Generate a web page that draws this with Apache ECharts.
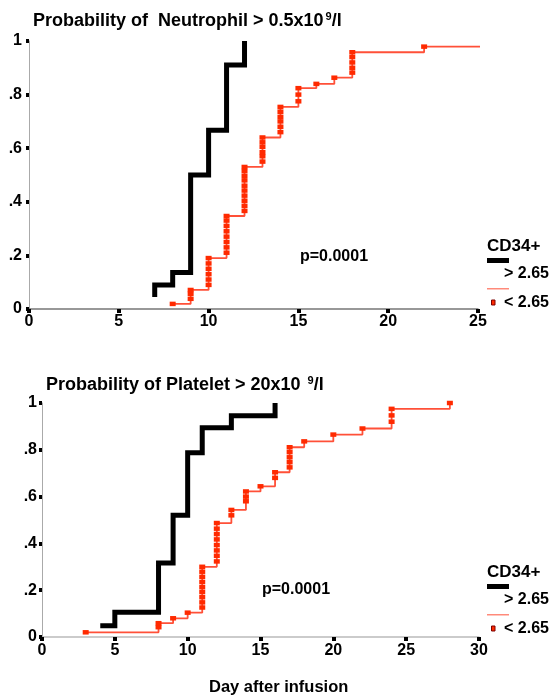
<!DOCTYPE html>
<html>
<head>
<meta charset="utf-8">
<script src="https://cdn.jsdelivr.net/npm/echarts@6/dist/echarts.min.js"></script>
<style>
html,body{margin:0;padding:0;background:#fff;}
#c{width:554px;height:700px;}
</style>
</head>
<body>
<div id="c"></div>
<script>
// ---- Data ----
// Neutrophil panel
const neuHighDays = [7, 7, 8, 9, 10, 11, 12];
const neuHighProb = [0.045, 0.09, 0.136, 0.50, 0.667, 0.91, 1.0];
const neuLowDays = [8, 9, 9, 9, 10, 10, 10, 10, 10, 10, 11, 11, 11, 11, 11, 11, 11, 11,
  12, 12, 12, 12, 12, 12, 12, 12, 12, 12, 13, 13, 13, 13, 13, 13, 14, 14, 14, 14, 14, 14,
  15, 15, 15, 16, 17, 18, 18, 18, 18, 18, 22];
const neuLowProb = [0.019, 0.038, 0.057, 0.071, 0.09, 0.11, 0.13, 0.15, 0.17, 0.19,
  0.21, 0.23, 0.25, 0.27, 0.29, 0.31, 0.33, 0.347,
  0.366, 0.385, 0.404, 0.423, 0.442, 0.46, 0.48, 0.497, 0.515, 0.53,
  0.55, 0.57, 0.585, 0.605, 0.622, 0.64, 0.66, 0.68, 0.70, 0.717, 0.736, 0.754,
  0.775, 0.80, 0.824, 0.84, 0.863, 0.882, 0.90, 0.92, 0.94, 0.958, 0.979];
const neuLowEnd = [25.8, 0.979];

// Platelet panel
const pltHighDays = [4, 5, 8, 9, 10, 11, 13, 16];
const pltHighProb = [0.048, 0.106, 0.316, 0.52, 0.787, 0.894, 0.946, 1.0];
const pltLowDays = [3, 8, 8, 9, 10, 11, 11, 11, 11, 11, 11, 11, 11, 11,
  12, 12, 12, 12, 12, 12, 12, 12, 13, 13, 14, 14, 14, 15, 16, 16,
  17, 17, 17, 17, 17, 18, 20, 22, 24, 24, 24, 28];
const pltLowProb = [0.02, 0.042, 0.059, 0.08, 0.104, 0.126, 0.148, 0.17, 0.192, 0.213, 0.235, 0.257, 0.279, 0.30,
  0.323, 0.347, 0.37, 0.393, 0.417, 0.44, 0.463, 0.487, 0.52, 0.543, 0.58, 0.60, 0.622, 0.644, 0.68, 0.704,
  0.725, 0.747, 0.768, 0.79, 0.811, 0.836, 0.865, 0.891, 0.92, 0.947, 0.975, 1.0];

const yTicks = ['0', '.2', '.4', '.6', '.8', '1'];
const topXMax = 25, botXMax = 30;
const pText = 'p=0.0001';
const legendTitle = 'CD34+';
const legendHigh = '> 2.65';
const legendLow = '< 2.65';

// ---- Build ----
const FONT = '"Liberation Sans", Arial, sans-serif';
const pair = (xs, ys) => xs.map((x, i) => [x, ys[i]]);
const neuLowData = pair(neuLowDays, neuLowProb);
neuLowData.push({ value: neuLowEnd, symbol: 'none' });

const yLabel = v => yTicks[Math.round(v * 5)];

function xAxis(idx, max, lineColor, margin) {
  return {
    gridIndex: idx, type: 'value', min: 0, max: max, interval: 5,
    axisLine: { show: true, lineStyle: { color: lineColor, width: 1.5 } },
    axisTick: { show: true, length: 4, lineStyle: { color: '#000', width: 4 } },
    axisLabel: { margin: margin, color: '#000', fontFamily: FONT, fontWeight: 'bold', fontSize: 16 },
    splitLine: { show: false }
  };
}
function yAxis(idx, margin) {
  return {
    gridIndex: idx, type: 'value', min: 0, max: 1, interval: 0.2,
    axisLine: { show: true, lineStyle: { color: '#aaa', width: 1 } },
    axisTick: { show: true, length: 3, lineStyle: { color: '#000', width: 4 } },
    axisLabel: { margin: margin, color: '#000', fontFamily: FONT, fontWeight: 'bold', fontSize: 16, formatter: yLabel },
    splitLine: { show: false }
  };
}
const blackLine = { color: '#000', width: 5, join: 'miter', cap: 'butt' };
const redLine = { color: '#ff5038', width: 1.8 };
const redItem = { color: '#ff2a00' };

function legend(y0) {
  return [
    { type: 'text', left: 487, top: y0 - 9, style: { text: legendTitle, font: 'bold 17px ' + FONT, fill: '#000' } },
    { type: 'rect', shape: { x: 487, y: y0 + 11, width: 22, height: 5 }, style: { fill: '#000' } },
    { type: 'text', left: 504, top: y0 + 19, style: { text: legendHigh, font: 'bold 16px ' + FONT, fill: '#000' } },
    { type: 'rect', shape: { x: 487, y: y0 + 41, width: 22, height: 1.5 }, style: { fill: '#ff8a7a' } },
    { type: 'rect', shape: { x: 491.5, y: y0 + 53, width: 3.5, height: 5 }, style: { fill: '#ff2a00', stroke: '#7a0000', lineWidth: 1 } },
    { type: 'text', left: 504, top: y0 + 48, style: { text: legendLow, font: 'bold 16px ' + FONT, fill: '#000' } }
  ];
}

const titleStyle = {
  fontFamily: FONT, fontWeight: 'bold', fontSize: 18, color: '#000',
  rich: { s: { fontFamily: FONT, fontWeight: 'bold', fontSize: 11, verticalAlign: 'top', padding: [0, 0, 9, 2], color: '#000' } }
};

const option = {
  animation: false,
  backgroundColor: '#fff',
  title: [
    { text: 'Probability of  Neutrophil > 0.5x10{s|9}/l', left: 28, top: 6, textStyle: titleStyle },
    { text: 'Probability of Platelet > 20x10 {s|9}/l', left: 41, top: 370, textStyle: titleStyle }
  ],
  grid: [
    { left: 29, top: 41, width: 449, height: 268 },
    { left: 42, top: 403, width: 437, height: 234 }
  ],
  xAxis: [xAxis(0, topXMax, '#777', 5), xAxis(1, botXMax, '#bbb', 6)],
  yAxis: [yAxis(0, 7), yAxis(1, 5)],
  series: [
    { type: 'line', xAxisIndex: 0, yAxisIndex: 0, step: 'end', data: pair(neuHighDays, neuHighProb),
      showSymbol: false, symbol: 'none', lineStyle: blackLine, clip: false, z: 3 },
    { type: 'line', xAxisIndex: 0, yAxisIndex: 0, step: 'end', data: neuLowData,
      symbol: 'rect', symbolSize: [6, 4.5], showSymbol: true, lineStyle: redLine, itemStyle: redItem, clip: false, z: 2 },
    { type: 'line', xAxisIndex: 1, yAxisIndex: 1, step: 'end', data: pair(pltHighDays, pltHighProb),
      showSymbol: false, symbol: 'none', lineStyle: blackLine, clip: false, z: 3 },
    { type: 'line', xAxisIndex: 1, yAxisIndex: 1, step: 'end', data: pair(pltLowDays, pltLowProb),
      symbol: 'rect', symbolSize: [6, 4.5], showSymbol: true, lineStyle: redLine, itemStyle: redItem, clip: false, z: 2 }
  ],
  graphic: [
    { type: 'text', left: 300, top: 249, style: { text: pText, font: 'bold 16px ' + FONT, fill: '#000' } },
    { type: 'text', left: 262, top: 582, style: { text: pText, font: 'bold 16px ' + FONT, fill: '#000' } },
    { type: 'text', left: 209, top: 679, style: { text: 'Day after infusion', font: 'bold 16.5px ' + FONT, fill: '#000' } }
  ].concat(legend(247), legend(573))
};

const chart = echarts.init(document.getElementById('c'), null, { renderer: 'canvas' });
chart.setOption(option);
</script>
</body>
</html>
